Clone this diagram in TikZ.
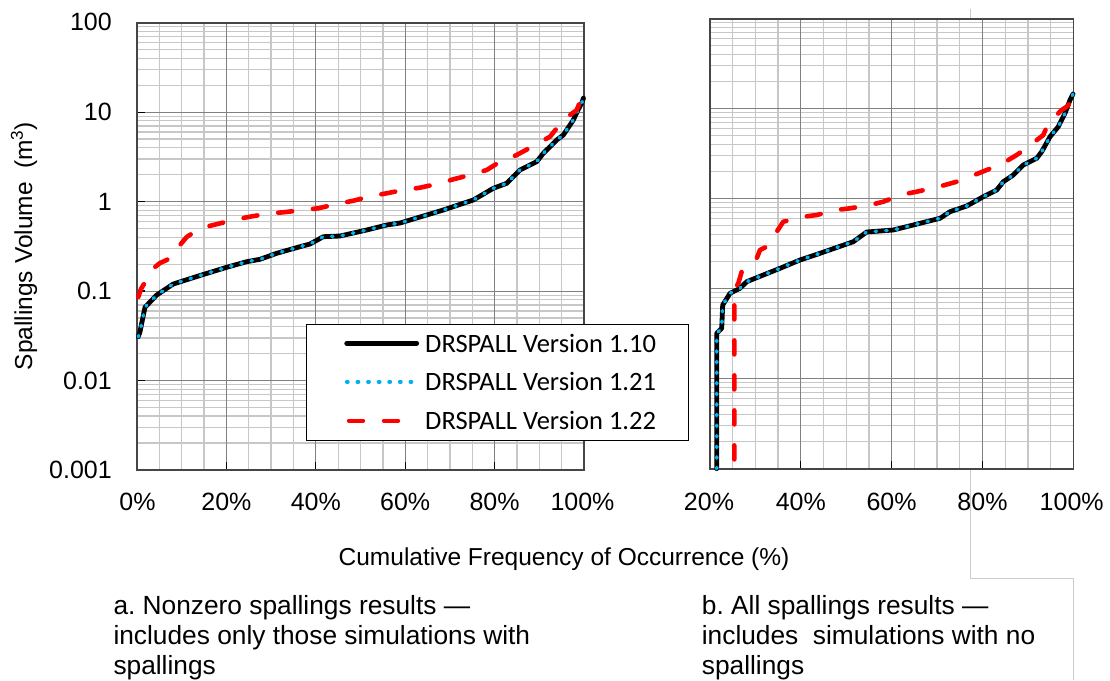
\documentclass[tikz,border=0pt]{standalone}
\usepackage{fontspec}
\setmainfont{Liberation Sans}
\newfontfamily\calibri{Carlito}
\definecolor{cyanx}{RGB}{0,176,240}
\definecolor{framegray}{RGB}{70,70,70}
\begin{document}
\begin{tikzpicture}[x=1pt,y=-1pt,
  minorgrid/.style={draw=black!22, line width=1.3pt},
  majorgrid/.style={draw=black!50, line width=1pt},
  plotframe/.style={draw=framegray, line width=1.6pt},
  tickmark/.style={draw=black, line width=1.2pt},
  outline/.style={draw=black!20, line width=1pt},
  vone/.style={draw=black, line width=4.8pt, line join=round, line cap=round},
  vtwo/.style={draw=cyanx, line width=3.6pt, line cap=round, dash pattern=on 1.2pt off 9.4pt},
  vthree/.style={draw=red, line width=4.6pt, line cap=round, line join=round, dash pattern=on 14pt off 21pt, dash phase=25.7pt},
  ticklab/.style={font=\fontsize{25}{30}\selectfont, inner sep=0pt},
  axtitle/.style={font=\fontsize{24.5}{29}\selectfont, inner sep=0pt},
  caption/.style={font=\fontsize{26.3}{31}\selectfont, inner sep=0pt, anchor=base west},
  legtext/.style={font=\calibri\fontsize{26.5}{31}\selectfont, inner sep=0pt, anchor=west}
]
\useasboundingbox (0,0) rectangle (1110,680);
\fill[white] (0,0) rectangle (1110,680);

% faint outline of a box behind the right panel
\draw[outline] (970,9) -- (970,18.7);
\draw[outline] (970,468.7) -- (970,578) -- (1073.3,578) -- (1073.3,680);

% ---------- left panel ----------
\fill[white] (137,22.7) rectangle (584,470);
\foreach \i in {1,...,19} { \draw[minorgrid] ({137+\i*22.35},22.7) -- ({137+\i*22.35},470); }
\foreach \k in {0,...,4} { \foreach \m in {2,...,9} {
  \draw[minorgrid] (137,{22.7+89.46*(\k+1-ln(\m)/ln(10))}) -- (584,{22.7+89.46*(\k+1-ln(\m)/ln(10))}); } }
\foreach \k in {1,...,4} { \draw[majorgrid] (137,{22.7+89.46*\k}) -- (584,{22.7+89.46*\k}); }
\foreach \i in {1,...,4} { \draw[majorgrid] ({137+\i*89.4},22.7) -- ({137+\i*89.4},470); }
\foreach \k in {1,...,4} { \draw[tickmark] (137,{22.7+89.46*\k}) -- (145,{22.7+89.46*\k}); }
\foreach \i in {1,...,4} { \draw[tickmark] ({137+\i*89.4},470) -- ({137+\i*89.4},462); }
\draw[plotframe] (137,22.7) rectangle (584,470);

% ---------- right panel ----------
\fill[white] (710,18.7) rectangle (1073.3,468.7);
\foreach \i in {1,...,15} { \draw[minorgrid] ({710+\i*22.706},18.7) -- ({710+\i*22.706},468.7); }
\foreach \k in {0,...,4} { \foreach \m in {2,...,9} {
  \draw[minorgrid] (710,{18.7+90*(\k+1-ln(\m)/ln(10))}) -- (1073.3,{18.7+90*(\k+1-ln(\m)/ln(10))}); } }
\foreach \k in {1,...,4} { \draw[majorgrid] (710,{18.7+90*\k}) -- (1073.3,{18.7+90*\k}); }
\foreach \i in {1,...,3} { \draw[majorgrid] ({710+\i*90.825},18.7) -- ({710+\i*90.825},468.7); }
\foreach \i in {1,...,3} { \draw[tickmark] ({710+\i*90.825},468.7) -- ({710+\i*90.825},460.7); }
\draw[plotframe] (710,18.7) rectangle (1073.3,468.7);

% ---------- curves, left ----------
\def\leftblack{(138.3,336.7) -- (140,331.7) -- (145,307.3) -- (156.7,295) -- (173.3,284) -- (200,275.5) -- (226.7,267.3) -- (246.7,261.7) -- (260,259.3) -- (276.7,253.3) -- (300,246.7) -- (310,244) -- (323.3,236.7) -- (340,236) -- (366.7,230) -- (386.7,225) -- (400,223) -- (426.7,215) -- (443.3,210) -- (473.3,200) -- (493.3,188.3) -- (506.7,183.3) -- (520,170) -- (536.7,161.7) -- (543.3,153.3) -- (556.7,140) -- (563.3,135) -- (573.3,120) -- (578,110) -- (581.7,103) -- (583.5,98)}
\draw[vone] \leftblack;
\draw[vtwo] \leftblack;
\draw[vthree, dash phase=0pt] (138.3,297) -- (141,289) -- (144,284) -- (150,276) -- (155,267) -- (160,263) -- (166.7,260) -- (175,254) -- (180,245) -- (186.7,237) -- (200,228.3) -- (213.3,225) -- (236.7,219.3) -- (250,216.7) -- (270,213.3) -- (283.3,212.3) -- (303.3,210) -- (318.3,208.3) -- (336.7,204) -- (353.3,200.7) -- (371.7,196) -- (386.7,193.3) -- (403.3,190) -- (420,187.7) -- (440,183.3) -- (453.3,179.3) -- (470,175) -- (486.7,170) -- (500,161.7) -- (516.7,155) -- (533.3,146) -- (550,136.7) -- (563.3,120) -- (576.7,110) -- (583.3,93.3);

% ---------- curves, right ----------
\def\rightblack{(716.7,468.7) -- (716.7,333.3) -- (721.7,328.3) -- (722.7,305) -- (730,293.3) -- (740,288.3) -- (746.7,281.7) -- (763.3,275) -- (780,268.3) -- (800,260) -- (820,253.3) -- (853.3,241.7) -- (866.7,232) -- (893.3,230) -- (913.3,225) -- (940,218.3) -- (950,211.7) -- (966.7,206) -- (983.3,196.7) -- (996.7,190) -- (1003.3,181.7) -- (1013.3,175) -- (1023.3,165) -- (1036.7,158.3) -- (1041.7,151.7) -- (1050,136.7) -- (1058.3,126.7) -- (1065,113.3) -- (1070,100) -- (1073,94)}
\draw[vone] \rightblack;
\draw[vtwo] \rightblack;
\draw[vthree] (734.3,468.7) -- (734.3,290) -- (738.3,283.3) -- (741.7,271.7) -- (745,268.3) -- (756.7,258.3) -- (760,250) -- (766.7,246.7) -- (776.7,231.7) -- (783.3,221.7) -- (803.3,216.7) -- (816.7,215) -- (836.7,210) -- (850,208.3) -- (870,205) -- (883.3,201.7) -- (900,195) -- (916.7,191.7) -- (936.7,187.3) -- (956.7,181.7) -- (970,176.7) -- (986.7,170) -- (1000,165) -- (1016.7,155) -- (1028.3,146.7) -- (1043.3,135) -- (1048.3,123.3) -- (1061.7,110) -- (1066.7,106.7) -- (1073,100);

% ---------- legend ----------
\draw[fill=white, draw=black, line width=1pt] (306.7,324.3) rectangle (688.3,440.7);
\coordinate (la1) at (346.7,343.3); \coordinate (lb1) at (416.7,343.3);
\coordinate (la2) at (346.7,381.7); \coordinate (lb2) at (416.7,381.7);
\coordinate (la3) at (346.7,420.7); \coordinate (lb3) at (416.7,420.7);
\draw[vone] (la1) -- (lb1);
\draw[vtwo, dash phase=0pt] (la2) -- (lb2);
\draw[vthree, dash phase=0pt, line width=4.4pt] ([xshift=2.3pt]la3) -- (lb3);
\node[legtext] (lt1) at (425,343.3) {DRSPALL Version 1.10};
\node[legtext] (lt2) at (425,381.7) {DRSPALL Version 1.21};
\node[legtext] (lt3) at (425,420.7) {DRSPALL Version 1.22};

% ---------- tick labels ----------
\node[ticklab, anchor=east] (y100) at (112,21.5) {100};
\node[ticklab, anchor=east] (y10) at (112,112.2) {10};
\node[ticklab, anchor=east] (y1) at (112,201.6) {1};
\node[ticklab, anchor=east] (y01) at (112,291.1) {0.1};
\node[ticklab, anchor=east] (y001) at (112,380.5) {0.01};
\node[ticklab, anchor=east] (y0001) at (112,470) {0.001};

\node[ticklab] (xa0) at (137.5,501.5) {0\%};
\node[ticklab] (xa20) at (226.4,501.5) {20\%};
\node[ticklab] (xa40) at (315.8,501.5) {40\%};
\node[ticklab] (xa60) at (405.2,501.5) {60\%};
\node[ticklab] (xa80) at (494.6,501.5) {80\%};
\node[ticklab] (xa100) at (582.5,501.5) {100\%};

\node[ticklab] (xb20) at (709,501.5) {20\%};
\node[ticklab] (xb40) at (800.8,501.5) {40\%};
\node[ticklab] (xb60) at (891.6,501.5) {60\%};
\node[ticklab] (xb80) at (982.5,501.5) {80\%};
\node[ticklab] (xb100) at (1071.7,501.5) {100\%};

% ---------- axis titles ----------
\node[axtitle, anchor=base] (xtitle) at (564,565) {Cumulative Frequency of Occurrence (\%)};
\node[axtitle, anchor=base, rotate=90] (ytitle) at (32,246) {Spallings Volume\ \ (m\textsuperscript{3})};

% ---------- captions ----------
\node[caption] (ca1) at (113.3,614) {a.\ Nonzero spallings results —};
\node[caption] (ca2) at (113.3,644.5) {includes only those simulations with};
\node[caption] (ca3) at (113.3,674) {spallings};
\node[caption] (cb1) at (701.7,614) {b.\ All spallings results —};
\node[caption] (cb2) at (701.7,644.5) {includes\ \ simulations with no};
\node[caption] (cb3) at (701.7,674) {spallings};
\end{tikzpicture}
\end{document}
